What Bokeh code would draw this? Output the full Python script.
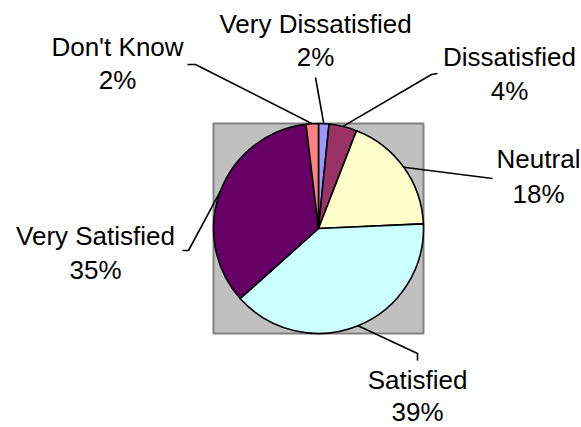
import math
from bokeh.plotting import figure
from bokeh.models import Range1d, ColumnDataSource
from bokeh.core.properties import value
from bokeh.embed import file_html
from bokeh.resources import INLINE

# ---- data ----
categories = ["Very Dissatisfied", "Dissatisfied", "Neutral", "Satisfied", "Very Satisfied", "Don't Know"]
shares = [1.6, 4.3, 18.4, 39.1, 34.7, 1.9]
colors = ["#9999FF", "#993366", "#FFFFCC", "#CCFFFF", "#660066", "#FF8080"]
pct_labels = [f"{round(v)}%" for v in shares]

# ---- layout (screen px, y down) ----
W, H = 581, 427
CX, CY, R = 318, 228, 105
box = (213, 123, 423, 333)
label_cx = [315, 509, 538, 417, 95, 117]
label_mid1 = [23, 56, 158, 379, 235, 46]
label_mid2 = [56, 90, 193, 411, 269, 79]
leader_pts = [
    [(315, 77)],
    [(437, 73), (431, 74)],
    [(492, 178)],
    [(417, 360), (417, 353)],
    [(182, 250), (188, 250)],
    [(187, 64), (195, 64)],
]


def Y(y):
    return H - y


p = figure(width=W, height=H, x_range=Range1d(0, W), y_range=Range1d(0, H),
           output_backend="svg", toolbar_location=None,
           x_axis_location=None, y_axis_location=None, min_border=0)
p.grid.visible = False
p.outline_line_color = None
p.background_fill_color = "white"
p.border_fill_color = "white"

# plot area square
p.quad(left=box[0], right=box[2], top=Y(box[1]), bottom=Y(box[3]),
       fill_color="#C0C0C0", line_color="#808080", line_width=2)

total = sum(shares)
starts, ends, mids = [], [], []
acc = 0.0
for v in shares:
    t0 = acc / total * 2 * math.pi
    acc += v
    t1 = acc / total * 2 * math.pi
    starts.append(math.pi / 2 - t1)
    ends.append(math.pi / 2 - t0)
    mids.append((t0 + t1) / 2)

src = ColumnDataSource(dict(start=starts, end=ends, color=colors, cat=categories))
p.wedge(x=CX, y=Y(CY), radius=R, radius_units="screen", start_angle="start", end_angle="end",
        fill_color="color", line_color="black", line_width=1.6, source=src)

# leader lines
xs, ys = [], []
for m, pts in zip(mids, leader_pts):
    px = CX + R * math.sin(m)
    py = CY - R * math.cos(m)
    lx = [px] + [q[0] for q in reversed(pts)]
    ly = [Y(py)] + [Y(q[1]) for q in reversed(pts)]
    xs.append(lx)
    ys.append(ly)
p.multi_line(xs=xs, ys=ys, line_color="black", line_width=1.6)

# labels
p.text(x=label_cx, y=[Y(b) for b in label_mid1], text=categories,
       text_font=value("Liberation Sans"), text_font_size="26px", text_color="black",
       text_align="center", text_baseline="middle")
p.text(x=label_cx, y=[Y(b) for b in label_mid2], text=pct_labels,
       text_font=value("Liberation Sans"), text_font_size="26px", text_color="black",
       text_align="center", text_baseline="middle")

open("out.html", "w").write(file_html(p, INLINE))
